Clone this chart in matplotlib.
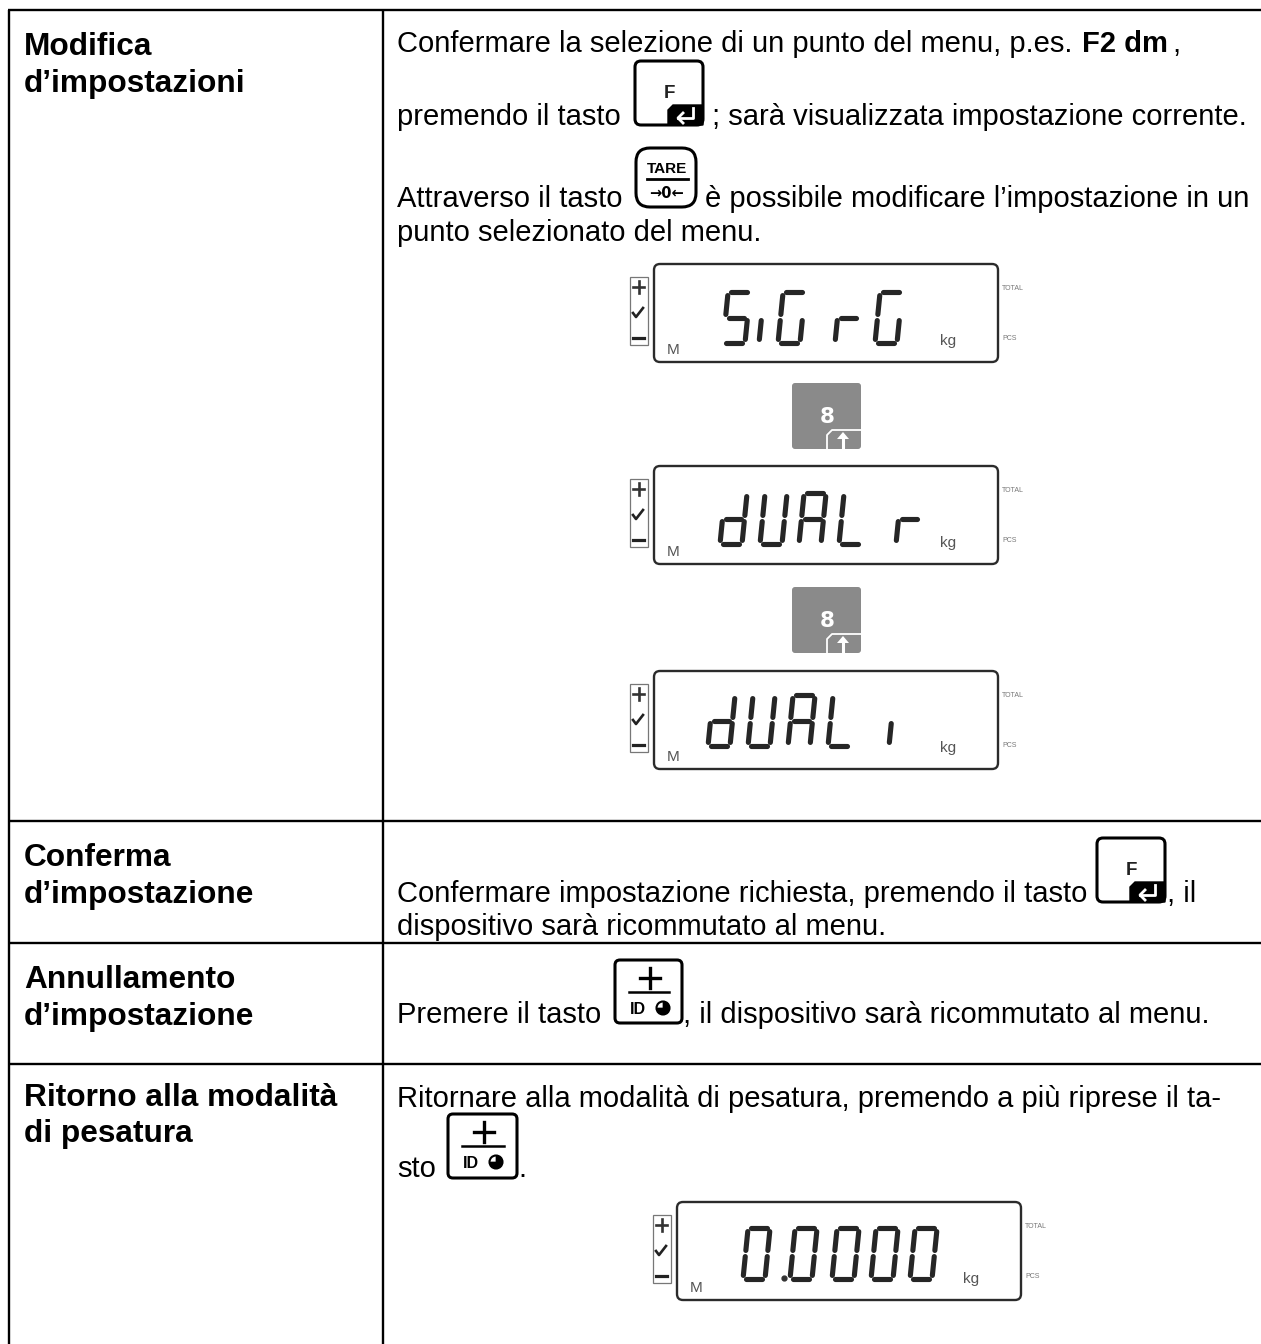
import matplotlib
matplotlib.use('Agg')
import matplotlib.pyplot as plt
from matplotlib.patches import Circle, FancyBboxPatch, Polygon, Rectangle, Wedge

W, H = 1261, 1344
plt.rcParams['font.family'] = ['Liberation Sans', 'DejaVu Sans']

row_labels = [['Modifica', "d’impostazioni"],
              ['Conferma', "d’impostazione"],
              ['Annullamento', "d’impostazione"],
              ['Ritorno alla modalità', 'di pesatura']]
label_y = [[55, 92], [866, 903], [988, 1025], [1106, 1142]]
row_lines = [10, 821, 943, 1064]

body_text = ['Confermare la selezione di un punto del menu, p.es.',
             'premendo il tasto',
             '; sarà visualizzata impostazione corrente.',
             'Attraverso il tasto',
             'è possibile modificare l’impostazione in un',
             'punto selezionato del menu.',
             'Confermare impostazione richiesta, premendo il tasto',
             ', il',
             'dispositivo sarà ricommutato al menu.',
             'Premere il tasto',
             ', il dispositivo sarà ricommutato al menu.',
             'Ritornare alla modalità di pesatura, premendo a più riprese il ta-',
             'sto',
             '.']
body_x = [397, 397, 712, 397, 705, 397, 397, 1167, 397, 397, 683, 397, 397, 518]
body_y = [52, 125, 125, 207, 207, 241, 902, 902, 935, 1023, 1023, 1107, 1177, 1177]

display_text = ['SiGrG', 'dUALr', 'dUALi', '0.0000']
display_glyph_x = [[723, 759, 778, 835, 875],
                   [720, 760, 799, 839, 896],
                   [708, 748, 788, 828, 889],
                   [743, 790, 832, 871, 910]]
display_glyph_top = [292, 493, 695, 1228]
display_top = [264, 466, 671, 1202]
display_left = [654, 654, 654, 677]

# segmenti accesi per ogni carattere
segments = {'S': 'afgcd', 'i': 'e', 'G': 'afedc', 'r': 'eg', 'd': 'bcdeg',
            'U': 'bcdef', 'A': 'abcefg', 'L': 'def', '0': 'abcdef'}

fig = plt.figure(figsize=(W / 100, H / 100), dpi=100)
ax = fig.add_axes([0, 0, 1, 1])
ax.set_xlim(0, W)
ax.set_ylim(H, 0)
ax.axis('off')


def put(x, y, s, size=21, **kw):
    ax.text(x, y, s, fontsize=size, ha=kw.pop('ha', 'left'), va=kw.pop('va', 'baseline'),
            color=kw.pop('color', 'black'), **kw)


def round_box(x0, y0, x1, y1, r, fc='white', ec='black', lw=2.2):
    ax.add_patch(FancyBboxPatch((x0 + r, y0 + r), x1 - x0 - 2 * r, y1 - y0 - 2 * r,
                                boxstyle=f'round,pad={r},rounding_size={r}',
                                fc=fc, ec=ec, lw=lw, zorder=3))


def f_key(x0, y0):
    round_box(x0, y0, x0 + 68, y0 + 64, 6)
    ax.add_patch(Polygon([(x0 + 33, y0 + 64), (x0 + 33, y0 + 49), (x0 + 38, y0 + 44),
                          (x0 + 68, y0 + 44), (x0 + 68, y0 + 64)], fc='black', ec='black', zorder=4))
    ax.plot([x0 + 58, x0 + 58, x0 + 43], [y0 + 47, y0 + 57, y0 + 57], color='white', lw=2, zorder=5)
    ax.plot([x0 + 48, x0 + 43, x0 + 48], [y0 + 52, y0 + 57, y0 + 62], color='white', lw=2, zorder=5)
    put(x0 + 34, y0 + 37, 'F', size=13.5, ha='center', weight='bold', zorder=5, color='#222222')


def tare_key(x0, y0):
    round_box(x0, y0, x0 + 60, y0 + 59, 14)
    ax.plot([x0 + 11, x0 + 52], [y0 + 31, y0 + 31], color='black', lw=2, zorder=5)
    put(x0 + 31, y0 + 25, 'TARE', size=11, ha='center', weight='bold', zorder=5)
    put(x0 + 31, y0 + 50, '→0←', size=10.5, ha='center', weight='bold', zorder=5,
        family=['DejaVu Sans'])


def id_key(x0, y0, w, h):
    round_box(x0, y0, x0 + w, y0 + h, 5)
    cx = x0 + w / 2 + 1
    ax.plot([x0 + 14, x0 + w - 13], [y0 + 32, y0 + 32], color='black', lw=1.8, zorder=5)
    ax.plot([cx - 10, cx + 10], [y0 + 18, y0 + 18], color='black', lw=2.4, zorder=5)
    ax.plot([cx, cx], [y0 + 8, y0 + 28], color='black', lw=2.4, zorder=5)
    put(x0 + 15, y0 + 54, 'ID', size=11.5, zorder=5, weight='bold')
    c = (x0 + 48, y0 + 48)
    ax.add_patch(Circle(c, 6.5, fc='white', ec='black', lw=1.5, zorder=5))
    ax.add_patch(Wedge(c, 6.5, -90, 180, fc='black', ec='black', lw=0.5, zorder=6))


def glyph(ch, x, top, w=22, h=51, slant=0.1):
    def p(u, v):
        return x + u * w + (1 - v) * h * slant, top + v * h
    bars = {'a': (p(.14, 0), p(.86, 0)), 'g': (p(.14, .5), p(.86, .5)), 'd': (p(.14, 1), p(.86, 1)),
            'f': (p(0, .07), p(0, .44)), 'b': (p(1, .07), p(1, .44)),
            'e': (p(0, .56), p(0, .93)), 'c': (p(1, .56), p(1, .93))}
    for s in segments[ch]:
        (x0, y0), (x1, y1) = bars[s]
        ax.plot([x0, x1], [y0, y1], color='#262626', lw=3.7, solid_capstyle='round', zorder=4)


def display(text, left, top, xs, gtop):
    right = left + 344
    bot = top + 98
    round_box(left, top, right, bot, 6, lw=1.7, ec='#2b2b2b')
    ax.add_patch(Rectangle((left - 24, top + 13), 18, 68, fc='white', ec='#777777', lw=0.9))
    ax.plot([left - 21, left - 10], [top + 23, top + 23], color='#333333', lw=1.9)
    ax.plot([left - 15.5, left - 15.5], [top + 17, top + 29], color='#333333', lw=1.9)
    ax.plot([left - 21, left - 18, left - 11], [top + 49, top + 53, top + 44], color='#222222', lw=1.9)
    ax.plot([left - 21, left - 10], [top + 74, top + 74], color='#222222', lw=2.3)
    put(left + 13, top + 90, 'M', size=11, color='#555555')
    put(left + 286, top + 81, 'kg', size=11, color='#555555')
    put(left + 348, top + 26, 'TOTAL', size=5, color='#777777')
    put(left + 348, top + 76, 'PCS', size=5, color='#777777')
    chars = [c for c in text if c != '.']
    for c, gx in zip(chars, xs):
        glyph(c, gx, gtop)
    if '.' in text:
        ax.plot(xs[1] - 6, gtop + 50, 'o', color='#333333', ms=3.5, zorder=4)


def arrow_key(top):
    ax.add_patch(FancyBboxPatch((794, top + 2), 65, 62, boxstyle='round,pad=2,rounding_size=3',
                                fc='#8a8a8a', ec='none', zorder=3))
    ax.plot([827, 827, 832, 861], [top + 66, top + 52, top + 47, top + 47],
            color='white', lw=1.3, zorder=4)
    put(827, top + 40, '8', size=15.5, ha='center', color='white', zorder=5,
        weight='bold', family=['DejaVu Sans'])
    ax.plot([843, 843], [top + 64, top + 53], color='white', lw=2.2, zorder=5)
    ax.add_patch(Polygon([(843, top + 49), (837, top + 56), (849, top + 56)],
                         fc='white', ec='none', zorder=5))


# griglia della tabella
for y in row_lines:
    ax.plot([8, W], [y, y], color='black', lw=1.7, solid_capstyle='butt')
ax.plot([9, 9], [row_lines[0], H], color='black', lw=1.7, solid_capstyle='butt')
ax.plot([383, 383], [row_lines[0], H], color='black', lw=1.7, solid_capstyle='butt')

for lines, ys in zip(row_labels, label_y):
    for s, y in zip(lines, ys):
        put(24, y, s, size=22.8, weight='bold')
for s, x, y in zip(body_text, body_x, body_y):
    put(x, y, s)
put(1082, 52, 'F2 dm', weight='bold')
put(1172, 52, ',')

f_key(635, 61)
tare_key(636, 148)
f_key(1097, 838)
id_key(615, 960, 67, 63)
id_key(448, 1114, 69, 64)

for s, xs, t, l, g in zip(display_text, display_glyph_x, display_top, display_left, display_glyph_top):
    display(s, l, t, xs, g)
arrow_key(383)
arrow_key(587)

fig.savefig('out.png', dpi=100)
